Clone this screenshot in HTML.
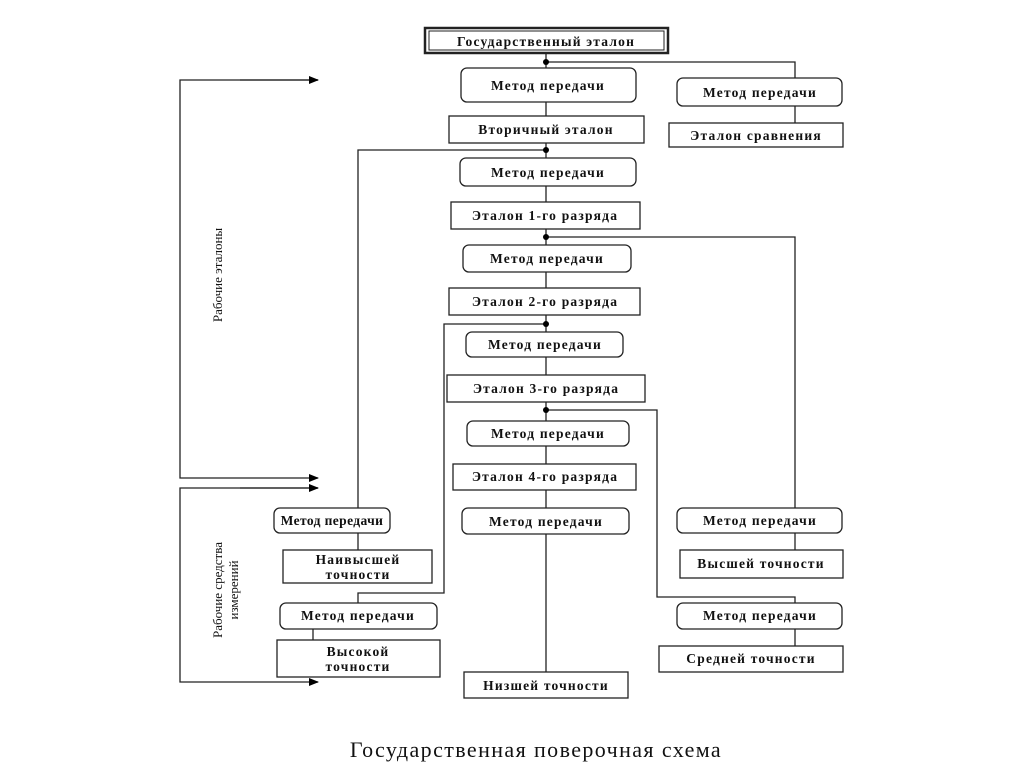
<!DOCTYPE html>
<html><head><meta charset="utf-8"><style>
body{margin:0;background:#fff;width:1024px;height:767px;overflow:hidden}
svg text{font-family:"Liberation Serif","DejaVu Serif",serif;font-weight:bold;font-size:13.5px;letter-spacing:1.2px;fill:#111}
</style></head><body>
<svg width="1024" height="767" viewBox="0 0 1024 767" xmlns="http://www.w3.org/2000/svg">
<defs><marker id="a" markerWidth="10" markerHeight="8" refX="9" refY="4" orient="auto" markerUnits="userSpaceOnUse"><path d="M0,0L10,4L0,8z" fill="#000"/></marker></defs>
<g stroke="#222" stroke-width="1.3" fill="none">
<line x1="546" y1="53" x2="546" y2="672"/>
<polyline points="546,62 795,62 795,78"/>
<line x1="795" y1="106" x2="795" y2="123"/>
<polyline points="546,150 358,150 358,508"/>
<line x1="358" y1="533" x2="358" y2="550"/>
<polyline points="546,237 795,237 795,508"/>
<line x1="795" y1="533" x2="795" y2="550"/>
<polyline points="546,324 444,324 444,593 358,593 358,603"/>
<line x1="313" y1="629" x2="313" y2="640"/>
<polyline points="546,410 657,410 657,597 795,597 795,603"/>
<line x1="795" y1="629" x2="795" y2="646"/>
<polyline points="318,80 180,80 180,478 318,478" marker-end="url(#a)"/>
<line x1="240" y1="80" x2="318" y2="80" marker-end="url(#a)"/>
<polyline points="318,488 180,488 180,682 318,682" marker-end="url(#a)"/>
<line x1="240" y1="488" x2="318" y2="488" marker-end="url(#a)"/>
</g>
<g fill="#000"><circle cx="546" cy="62" r="3"/><circle cx="546" cy="150" r="3"/><circle cx="546" cy="237" r="3"/><circle cx="546" cy="324" r="3"/><circle cx="546" cy="410" r="3"/></g>
<g stroke="#222" stroke-width="1.3" fill="#fff">
<rect x="425" y="28" width="243" height="25" stroke-width="2.5"/>
<rect x="429" y="31" width="235" height="19" stroke-width="1"/>
<rect x="461" y="68" width="175" height="34" rx="6"/>
<rect x="677" y="78" width="165" height="28" rx="6"/>
<rect x="449" y="116" width="195" height="27"/>
<rect x="669" y="123" width="174" height="24"/>
<rect x="460" y="158" width="176" height="28" rx="6"/>
<rect x="451" y="202" width="189" height="27"/>
<rect x="463" y="245" width="168" height="27" rx="6"/>
<rect x="449" y="288" width="191" height="27"/>
<rect x="466" y="332" width="157" height="25" rx="6"/>
<rect x="447" y="375" width="198" height="27"/>
<rect x="467" y="421" width="162" height="25" rx="6"/>
<rect x="453" y="464" width="183" height="26"/>
<rect x="462" y="508" width="167" height="26" rx="6"/>
<rect x="464" y="672" width="164" height="26"/>
<rect x="274" y="508" width="116" height="25" rx="6"/>
<rect x="283" y="550" width="149" height="33"/>
<rect x="280" y="603" width="157" height="26" rx="6"/>
<rect x="277" y="640" width="163" height="37"/>
<rect x="677" y="508" width="165" height="25" rx="6"/>
<rect x="680" y="550" width="163" height="28"/>
<rect x="677" y="603" width="165" height="26" rx="6"/>
<rect x="659" y="646" width="184" height="26"/>
</g>
<g text-anchor="middle">
<text x="546" y="46">Государственный эталон</text>
<text x="548" y="90">Метод передачи</text>
<text x="760" y="97">Метод передачи</text>
<text x="546" y="134">Вторичный эталон</text>
<text x="756" y="140">Эталон сравнения</text>
<text x="548" y="177">Метод передачи</text>
<text x="545" y="220">Эталон 1-го разряда</text>
<text x="547" y="263">Метод передачи</text>
<text x="545" y="306">Эталон 2-го разряда</text>
<text x="545" y="349">Метод передачи</text>
<text x="546" y="393">Эталон 3-го разряда</text>
<text x="548" y="438">Метод передачи</text>
<text x="545" y="481">Эталон 4-го разряда</text>
<text x="546" y="526">Метод передачи</text>
<text x="546" y="690">Низшей точности</text>
<text x="332" y="525" style="letter-spacing:0.4px">Метод передачи</text>
<text x="358" y="564">Наивысшей</text>
<text x="358" y="579">точности</text>
<text x="358" y="620">Метод передачи</text>
<text x="358" y="656">Высокой</text>
<text x="358" y="671">точности</text>
<text x="760" y="525">Метод передачи</text>
<text x="761" y="568">Высшей точности</text>
<text x="760" y="620">Метод передачи</text>
<text x="751" y="663">Средней точности</text>
</g>
<g text-anchor="middle">
<text x="0" y="0" transform="translate(222,275) rotate(-90)" style="font-weight:normal;font-size:13px;letter-spacing:0">Рабочие эталоны</text>
<text x="0" y="0" transform="translate(222,590) rotate(-90)" style="font-weight:normal;font-size:13px;letter-spacing:0">Рабочие средства</text>
<text x="0" y="0" transform="translate(238,590) rotate(-90)" style="font-weight:normal;font-size:13px;letter-spacing:0">измерений</text>
<text x="536" y="757" style="font-weight:normal;font-size:22px;letter-spacing:1.4px">Государственная поверочная схема</text>
</g>
</svg>
</body></html>
